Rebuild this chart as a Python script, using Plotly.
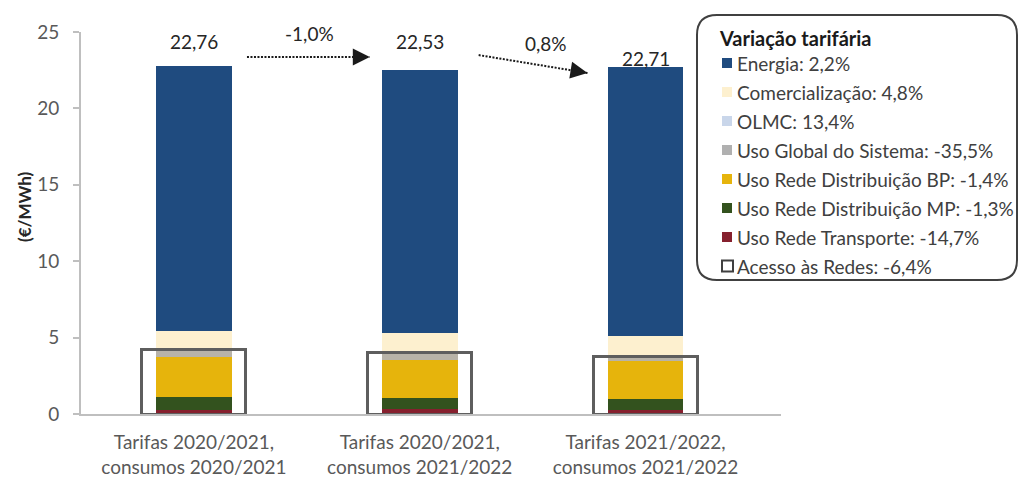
import plotly.graph_objects as go

# Scenario categories (x axis)
categories = [
    "Tarifas 2020/2021,<br>consumos 2020/2021",
    "Tarifas 2020/2021,<br>consumos 2021/2022",
    "Tarifas 2021/2022,<br>consumos 2021/2022",
]

# Tariff components, €/MWh, stacked from the bottom up
uso_rede_transporte = [0.26, 0.30, 0.26]
uso_rede_dist_mp = [0.87, 0.75, 0.74]
uso_rede_dist_bp = [2.62, 2.50, 2.46]
uso_global_sistema = [0.45, 0.50, 0.32]
olmc = [0.05, 0.05, 0.06]
comercializacao = [1.20, 1.19, 1.25]
energia = [17.31, 17.24, 17.62]

# Legend entries: component names and their tariff variation (%)
legend_names = [
    "Energia", "Comercialização", "OLMC", "Uso Global do Sistema",
    "Uso Rede Distribuição BP", "Uso Rede Distribuição MP",
    "Uso Rede Transporte", "Acesso às Redes",
]
legend_variation = [2.2, 4.8, 13.4, -35.5, -1.4, -1.3, -14.7, -6.4]

y_ticks = [0, 5, 10, 15, 20, 25]

FONT = "Lato"
GREY_TXT = "#595959"

colors = {
    "Energia": "#1F4B7F",
    "Comercialização": "#FDF0CF",
    "OLMC": "#C9D6EA",
    "Uso Global do Sistema": "#B8B3A8",
    "Uso Rede Distribuição BP": "#E6B40C",
    "Uso Rede Distribuição MP": "#33521E",
    "Uso Rede Transporte": "#86202E",
}
legend_swatch = dict(colors, **{"Uso Global do Sistema": "#B0B0B0"})
box_color = "#5E5E5E"

stack = [
    ("Uso Rede Transporte", uso_rede_transporte),
    ("Uso Rede Distribuição MP", uso_rede_dist_mp),
    ("Uso Rede Distribuição BP", uso_rede_dist_bp),
    ("Uso Global do Sistema", uso_global_sistema),
    ("OLMC", olmc),
    ("Comercialização", comercializacao),
    ("Energia", energia),
]

x_pos = list(range(len(categories)))
fig = go.Figure()

for name, vals in stack:
    fig.add_trace(go.Bar(
        x=x_pos, y=vals, name=name, width=0.336,
        marker=dict(color=colors[name], line=dict(width=0)),
        showlegend=False, hoverinfo="skip",
    ))

# Network access ("Acesso às Redes") = network-use components, drawn as an open box
acesso = [
    round(a + b + c + d, 2)
    for a, b, c, d in zip(uso_rede_transporte, uso_rede_dist_mp,
                          uso_rede_dist_bp, uso_global_sistema)
]
fig.add_trace(go.Bar(
    x=x_pos, y=acesso, name="Acesso às Redes", width=0.46, xaxis="x2",
    marker=dict(color="rgba(0,0,0,0)", line=dict(color=box_color, width=3)),
    showlegend=False, hoverinfo="skip",
))

totals = [round(sum(v[i] for _, v in stack), 2) for i in range(len(categories))]


def fmt(v, nd=2):
    return f"{v:.{nd}f}".replace(".", ",")


LABEL_FONT = dict(family=FONT, size=19, color="#262626")

annotations = []
# Total labels
label_y = [24.4, 24.4, None]
for i, t in enumerate(totals):
    if label_y[i] is not None:
        annotations.append(dict(x=i, y=label_y[i], xref="x", yref="y", text=fmt(t),
                                showarrow=False, yanchor="middle", font=LABEL_FONT))
    else:
        annotations.append(dict(x=i, y=t, xref="x", yref="y", text=fmt(t),
                                showarrow=False, yanchor="bottom", yshift=-5,
                                font=LABEL_FONT))

# Variation arrows between scenarios
arrows = [
    # (x0, y0, x1, y1, label x, label y)
    (0.235, 23.36, 0.779, 23.36, 0.513, 24.93),
    (1.261, 23.49, 1.743, 22.32, 1.558, 24.28),
]
shapes = []
for k, (x0, y0, x1, y1, lx, ly) in enumerate(arrows):
    change = (totals[k + 1] / totals[k] - 1) * 100
    shapes.append(dict(type="line", xref="x", yref="y", x0=x0, y0=y0, x1=x1, y1=y1,
                       line=dict(color="#1a1a1a", width=2, dash="2px,1.5px")))
    dxp = (x1 - x0) * 226
    dyp = (y1 - y0) * 15.28
    norm = (dxp ** 2 + dyp ** 2) ** 0.5
    annotations.append(dict(x=x1, y=y1, xref="x", yref="y", text="",
                            showarrow=True, arrowhead=2, arrowsize=1.7, arrowwidth=2,
                            arrowcolor="#1a1a1a",
                            ax=-10 * dxp / norm, ay=10 * dyp / norm, standoff=0))
    annotations.append(dict(x=lx, y=ly, xref="x", yref="y", text=fmt(change, 1) + "%",
                            showarrow=False, font=LABEL_FONT))

# Y axis title
annotations.append(dict(x=(25 - 81) / 700, y=(414 - 207) / 382, xref="paper", yref="paper",
                        text="<b>(€/MWh)</b>", textangle=-90, showarrow=False,
                        xanchor="center", yanchor="middle",
                        font=dict(family=FONT, size=17, color="#262626")))


# Legend panel (paper coordinates from pixel positions)
def pxx(px):
    return (px - 81) / 700


def pxy(py):
    return (414 - py) / 382


L, R, T, B, rad = 697, 1017, 15, 280, 20
path = (
    f"M {pxx(L + rad)},{pxy(T)} L {pxx(R - rad)},{pxy(T)} "
    f"Q {pxx(R)},{pxy(T)} {pxx(R)},{pxy(T + rad)} "
    f"L {pxx(R)},{pxy(B - rad)} Q {pxx(R)},{pxy(B)} {pxx(R - rad)},{pxy(B)} "
    f"L {pxx(L + rad)},{pxy(B)} Q {pxx(L)},{pxy(B)} {pxx(L)},{pxy(B - rad)} "
    f"L {pxx(L)},{pxy(T + rad)} Q {pxx(L)},{pxy(T)} {pxx(L + rad)},{pxy(T)} Z"
)
shapes.append(dict(type="path", xref="paper", yref="paper", path=path,
                   line=dict(color="#404040", width=2), fillcolor="rgba(0,0,0,0)"))

annotations.append(dict(x=pxx(717), y=pxy(38), xref="paper", yref="paper",
                        text="<b>Variação tarifária</b>", showarrow=False,
                        xanchor="left", yanchor="middle",
                        font=dict(family=FONT, size=20, color="#1a1a1a")))

for i, (nm, var) in enumerate(zip(legend_names, legend_variation)):
    cy = 63 + 29 * i
    if nm in colors:
        shapes.append(dict(type="rect", xref="paper", yref="paper",
                           x0=pxx(722), x1=pxx(732), y0=pxy(cy - 5), y1=pxy(cy + 5),
                           fillcolor=legend_swatch[nm], line=dict(width=0)))
    else:
        shapes.append(dict(type="rect", xref="paper", yref="paper",
                           x0=pxx(722), x1=pxx(733), y0=pxy(cy - 5.5), y1=pxy(cy + 5.5),
                           fillcolor="white", line=dict(color="#404040", width=2)))
    annotations.append(dict(x=pxx(735), y=pxy(cy), xref="paper", yref="paper",
                            text=f"{nm}: {fmt(var, 1)}%", showarrow=False,
                            xanchor="left", yanchor="middle",
                            font=dict(family=FONT, size=19, color="#404040")))

fig.update_layout(
    width=1020, height=477,
    margin=dict(l=81, r=239, t=32, b=63),
    barmode="stack",
    plot_bgcolor="white", paper_bgcolor="white",
    showlegend=False,
    font=dict(family=FONT, color=GREY_TXT),
    xaxis=dict(
        range=[-0.5, 2.6], tickvals=x_pos, ticktext=categories,
        showline=True, linecolor="#BFBFBF", linewidth=2, ticks="",
        showgrid=False, zeroline=False, ticklabelstandoff=10, automargin=False,
        tickfont=dict(family=FONT, size=19, color=GREY_TXT),
    ),
    xaxis2=dict(range=[-0.5, 2.6], overlaying="x", visible=False),
    yaxis=dict(
        range=[0, 25], tickvals=y_ticks, showline=True, linecolor="#BFBFBF", linewidth=2,
        ticks="outside", ticklen=6, tickcolor="#BFBFBF", tickwidth=2,
        showgrid=False, zeroline=False, ticklabelstandoff=10, automargin=False,
        tickfont=dict(family=FONT, size=19, color=GREY_TXT),
    ),
    shapes=shapes,
    annotations=annotations,
)

fig.write_html("out.html")
